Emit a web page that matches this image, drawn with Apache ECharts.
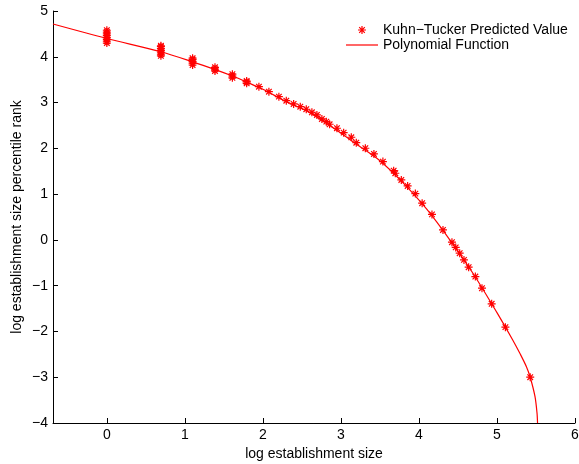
<!DOCTYPE html>
<html>
<head>
<meta charset="utf-8">
<script src="https://cdn.jsdelivr.net/npm/echarts@6/dist/echarts.min.js"></script>
<style>
html,body{margin:0;padding:0;background:#fff;}
#chart{width:579px;height:464px;}
</style>
</head>
<body>
<div id="chart"></div>
<script>
// Kuhn-Tucker predicted values (log size, log percentile rank)
const ktX = [
  0,0,0,0,0,0,0,0,
  0.693,0.693,0.693,0.693,0.693,0.693,0.693,
  1.099,1.099,1.099,1.099,1.099,
  1.386,1.386,1.386,
  1.609,1.609,1.609,
  1.792,1.792,1.792,
  1.949,2.077,2.205,2.300,2.394,2.479,2.556,2.628,2.692,2.756,2.813,2.855,
  2.949,3.035,3.133,3.197,3.313,3.423,3.538,3.676,3.697,3.774,3.855,3.954,
  4.041,4.167,4.308,4.423,4.471,4.522,4.577,4.637,4.723,4.808,4.932,5.108,5.426
];
const ktY = [
  4.30,4.34,4.38,4.42,4.46,4.50,4.54,4.58,
  4.02,4.06,4.10,4.14,4.18,4.22,4.24,
  3.82,3.86,3.90,3.94,3.97,
  3.69,3.73,3.77,
  3.54,3.58,3.62,
  3.42,3.45,3.47,
  3.347,3.238,3.129,3.041,2.969,2.910,2.854,2.788,2.729,2.642,2.583,2.526,
  2.439,2.343,2.242,2.124,2.002,1.878,1.710,1.513,1.456,1.310,1.179,1.011,
  0.801,0.557,0.218,-0.050,-0.164,-0.290,-0.437,-0.596,-0.801,-1.055,-1.397,-1.906,-3.000
];
// Polynomial function curve
const polyX = [-0.69,0,0.69,1.1,1.39,1.61,1.79,2.0,2.3,2.6,2.9,3.2,3.5,3.8,4.1,4.4,4.7,5.0,5.2,5.3,5.38,5.426,5.487,5.513,5.52];
const polyY = [4.716,4.40,4.11,3.89,3.72,3.58,3.45,3.29,3.02,2.78,2.45,2.09,1.73,1.24,0.67,-0.01,-0.75,-1.59,-2.18,-2.50,-2.78,-3.0,-3.42,-3.78,-4.0];
const xTicks = [0,1,2,3,4,5,6];

const asterisk = 'path://M8.5 0 L11.5 0 L11.5 20 L8.5 20 Z M0 8.5 L20 8.5 L20 11.5 L0 11.5 Z M1.94 4.06 L4.06 1.94 L18.06 15.94 L15.94 18.06 Z M15.94 1.94 L18.06 4.06 L4.06 18.06 L1.94 15.94 Z';
const lineIcon = 'path://M0 0 L32 0 L32 1.2 L0 1.2 Z';
const FONT = 'Liberation Sans';
const FS = 14;
const fmt = v => (Math.abs(v - Math.round(v)) > 1e-6) ? '' : String(Math.round(v)).replace('-', '\u2212');

const chart = echarts.init(document.getElementById('chart'), null, {renderer: 'canvas'});
chart.setOption({
  animation: false,
  backgroundColor: '#fff',
  textStyle: {fontFamily: FONT},
  grid: {left: 53, right: 4, top: 11, bottom: 41, containLabel: false, outerBoundsMode: 'none'},
  legend: {
    left: 341, top: 18, orient: 'vertical', padding: 5,
    itemWidth: 32, itemHeight: 8, itemGap: 1,
    textStyle: {fontFamily: FONT, fontSize: FS, color: '#000'},
    data: [
      {name: 'Kuhn\u2212Tucker Predicted Value', icon: asterisk},
      {name: 'Polynomial Function', icon: lineIcon, itemStyle: {color: '#ff0000'}}
    ]
  },
  xAxis: {
    type: 'value', min: -0.69, max: 6, minInterval: 1, maxInterval: 1,
    name: 'log establishment size', nameLocation: 'middle', nameGap: 22,
    nameTextStyle: {fontFamily: FONT, fontSize: FS, color: '#000'},
    axisLine: {show: true, onZero: false, lineStyle: {color: '#000', width: 1}},
    axisTick: {show: true, inside: true, length: 5, lineStyle: {color: '#000'},
      customValues: xTicks},
    axisLabel: {fontFamily: FONT, fontSize: FS, color: '#000', margin: 5, formatter: fmt,
      customValues: xTicks},
    splitLine: {show: false}
  },
  yAxis: {
    type: 'value', min: -4, max: 5, interval: 1,
    name: 'log establishment size percentile rank', nameLocation: 'middle', nameGap: 29,
    nameMoveOverlap: false,
    nameTextStyle: {fontFamily: FONT, fontSize: FS, color: '#000'},
    axisLine: {show: true, onZero: false, lineStyle: {color: '#000', width: 1}},
    axisTick: {show: true, inside: true, length: 5, lineStyle: {color: '#000'}},
    axisLabel: {fontFamily: FONT, fontSize: FS, color: '#000', margin: 5, formatter: fmt},
    splitLine: {show: false}
  },
  series: [
    {
      name: 'Kuhn\u2212Tucker Predicted Value', type: 'scatter',
      symbol: asterisk, symbolSize: 8,
      itemStyle: {color: '#ff0000', opacity: 1},
      data: ktX.map((x, i) => [x, ktY[i]]),
      z: 3
    },
    {
      name: 'Polynomial Function', type: 'line',
      symbol: 'none', smooth: 0.3,
      lineStyle: {color: '#ff0000', width: 1.2},
      itemStyle: {color: '#ff0000'},
      data: polyX.map((x, i) => [x, polyY[i]]),
      z: 2
    }
  ]
});
</script>
</body>
</html>
